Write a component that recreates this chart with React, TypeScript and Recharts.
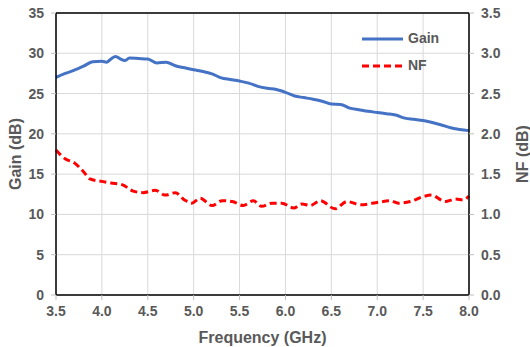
import React from "react";
import {
  LineChart,
  Line,
  XAxis,
  YAxis,
  CartesianGrid,
  ReferenceLine,
  Label,
} from "recharts";

const gainFreq = [3.5, 3.6, 3.7, 3.8, 3.9, 4.0, 4.05, 4.1, 4.15, 4.2, 4.25, 4.3, 4.4, 4.5, 4.6, 4.7, 4.8, 4.9, 5.0, 5.1, 5.2, 5.3, 5.4, 5.5, 5.6, 5.7, 5.8, 5.9, 6.0, 6.1, 6.2, 6.3, 6.4, 6.5, 6.6, 6.7, 6.8, 6.9, 7.0, 7.1, 7.2, 7.3, 7.4, 7.5, 7.6, 7.7, 7.8, 7.9, 8.0];
const gainValues = [27.0, 27.5, 27.9, 28.4, 28.95, 29.0, 28.9, 29.3, 29.6, 29.3, 29.1, 29.4, 29.35, 29.3, 28.8, 28.9, 28.45, 28.2, 27.95, 27.75, 27.45, 26.95, 26.75, 26.55, 26.3, 25.9, 25.65, 25.5, 25.15, 24.7, 24.5, 24.3, 24.05, 23.7, 23.65, 23.2, 23.0, 22.8, 22.65, 22.5, 22.35, 21.95, 21.8, 21.65, 21.4, 21.1, 20.75, 20.55, 20.4];

const nfFreq = [3.5, 3.6, 3.7, 3.8, 3.87, 4.0, 4.1, 4.22, 4.34, 4.45, 4.58, 4.69, 4.8, 4.9, 4.98, 5.07, 5.2, 5.31, 5.42, 5.54, 5.65, 5.74, 5.85, 5.96, 6.09, 6.18, 6.27, 6.38, 6.54, 6.67, 6.82, 7.01, 7.14, 7.23, 7.36, 7.5, 7.59, 7.74, 7.85, 7.94, 8.0];
const nfValues = [1.8, 1.69, 1.64, 1.53, 1.44, 1.41, 1.39, 1.37, 1.29, 1.27, 1.3, 1.24, 1.27, 1.18, 1.14, 1.2, 1.11, 1.17, 1.16, 1.11, 1.17, 1.1, 1.14, 1.14, 1.08, 1.13, 1.11, 1.17, 1.07, 1.16, 1.12, 1.15, 1.17, 1.14, 1.16, 1.22, 1.24, 1.16, 1.19, 1.18, 1.23];

const freqTicks = [3.5, 4.0, 4.5, 5.0, 5.5, 6.0, 6.5, 7.0, 7.5, 8.0];
const gainTicks = [0, 5, 10, 15, 20, 25, 30, 35];
const nfTicks = [0, 0.5, 1.0, 1.5, 2.0, 2.5, 3.0, 3.5];
const seriesNames = ["Gain", "NF"];

const gainData = gainFreq.map((f, i) => ({ f, gain: gainValues[i] }));
const nfData = nfFreq.map((f, i) => ({ f, nf: nfValues[i] }));

const TXT = "#595959";
const FONT = "'Liberation Sans', Arial, sans-serif";
const tickStyle = { fill: TXT, fontSize: 14, fontWeight: 700, fontFamily: FONT };
const titleStyle = { fill: TXT, fontSize: 16, fontWeight: 700, fontFamily: FONT, textAnchor: "middle" as const };

const LegendBox = () => (
  <div style={{ position: "absolute", left: 360, top: 28, width: 120, height: 60, fontFamily: FONT, fontWeight: 700, fontSize: 14, color: TXT }}>
    <div style={{ position: "absolute", left: 0, top: 0, width: 120, height: 20 }}>
      <svg width={44} height={20} style={{ position: "absolute", left: 0, top: 0 }}>
        <line x1={2} y1={11} x2={43} y2={11} stroke="#4472C4" strokeWidth={3} />
      </svg>
      <span style={{ position: "absolute", left: 48, top: 2 }}>{seriesNames[0]}</span>
    </div>
    <div style={{ position: "absolute", left: 0, top: 27, width: 120, height: 20 }}>
      <svg width={44} height={20} style={{ position: "absolute", left: 0, top: 0 }}>
        <line x1={2} y1={11} x2={43} y2={11} stroke="#FF0000" strokeWidth={3} strokeDasharray="7 4" />
      </svg>
      <span style={{ position: "absolute", left: 48, top: 2 }}>{seriesNames[1]}</span>
    </div>
  </div>
);

export default function App() {
  return (
    <div style={{ position: "absolute", left: 0, top: 0, width: 530, height: 347, background: "#fff" }}>
      <LineChart width={530} height={347} margin={{ top: 13, right: 0, left: 0, bottom: 0 }}>
        <CartesianGrid stroke="#d9d9d9" strokeWidth={1} yAxisId="g" />
        <XAxis
          dataKey="f"
          type="number"
          domain={[3.5, 8]}
          ticks={freqTicks}
          tickFormatter={(v: number) => v.toFixed(1)}
          allowDuplicatedCategory={false}
          height={52}
          tick={tickStyle}
          tickSize={5}
          tickMargin={6}
          tickLine={{ stroke: "#bfbfbf" }}
          axisLine={{ stroke: "#000", strokeWidth: 1.5 }}
        >
          <Label value="Frequency (GHz)" position="insideBottom" offset={4} style={titleStyle} />
        </XAxis>
        <YAxis
          yAxisId="g"
          orientation="left"
          domain={[0, 35]}
          ticks={gainTicks}
          width={56}
          tick={tickStyle}
          tickSize={5}
          tickMargin={7}
          tickLine={{ stroke: "#bfbfbf" }}
          axisLine={{ stroke: "#000", strokeWidth: 1.5 }}
          interval={0}
        >
          <Label value="Gain (dB)" angle={-90} position="insideLeft" offset={15} style={titleStyle} />
        </YAxis>
        <YAxis
          yAxisId="n"
          orientation="right"
          domain={[0, 3.5]}
          ticks={nfTicks}
          tickFormatter={(v: number) => v.toFixed(1)}
          width={61}
          tick={tickStyle}
          tickSize={5}
          tickMargin={7}
          tickLine={{ stroke: "#bfbfbf" }}
          axisLine={{ stroke: "#000", strokeWidth: 1.5 }}
          interval={0}
        >
          <Label value="NF (dB)" angle={-90} position="insideRight" offset={8} style={titleStyle} />
        </YAxis>
        <ReferenceLine yAxisId="g" y={35} stroke="#000" strokeWidth={1.5} />
        <Line
          yAxisId="g"
          data={gainData}
          dataKey="gain"
          name={seriesNames[0]}
          type="monotone"
          stroke="#4472C4"
          strokeWidth={3}
          dot={false}
          isAnimationActive={false}
        />
        <Line
          yAxisId="n"
          data={nfData}
          dataKey="nf"
          name={seriesNames[1]}
          type="monotone"
          stroke="#FF0000"
          strokeWidth={3}
          strokeDasharray="7 4"
          dot={false}
          isAnimationActive={false}
        />
      </LineChart>
      <LegendBox />
    </div>
  );
}
